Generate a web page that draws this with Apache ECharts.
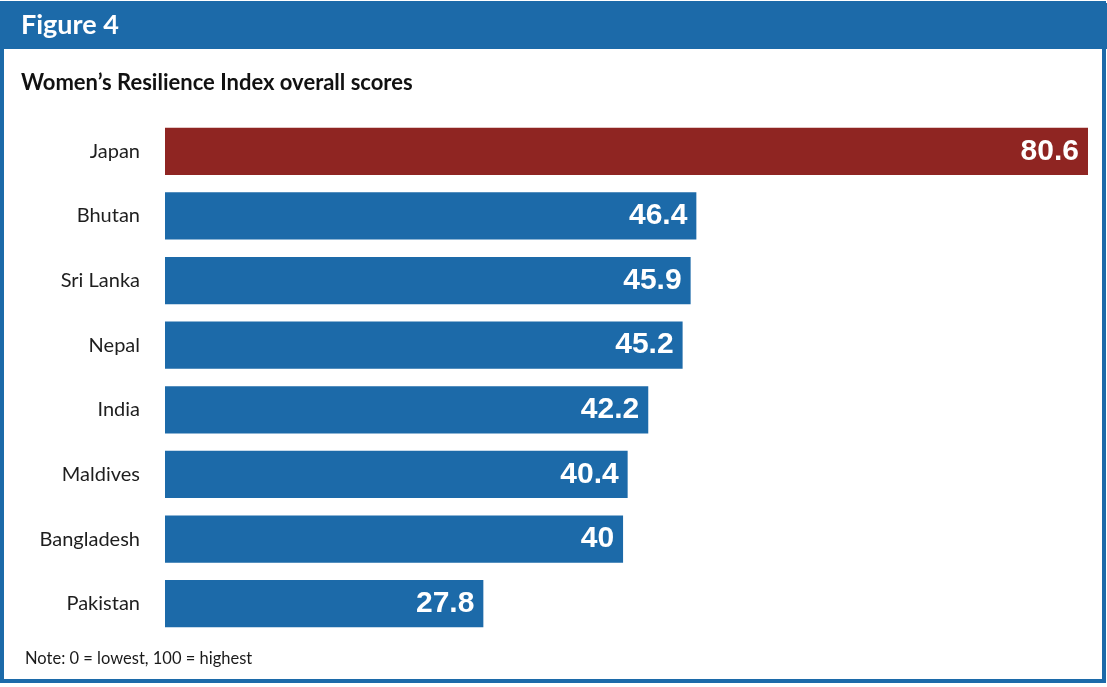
<!DOCTYPE html>
<html>
<head>
<meta charset="utf-8">
<script src="https://cdn.jsdelivr.net/npm/echarts@6/dist/echarts.min.js"></script>
<style>
  html, body { margin: 0; padding: 0; background: #ffffff; }
  #chart { width: 1107px; height: 687px; }
</style>
</head>
<body>
<div id="chart"></div>
<script>
// Women's Resilience Index overall scores by country
const countries = ['Japan', 'Bhutan', 'Sri Lanka', 'Nepal', 'India', 'Maldives', 'Bangladesh', 'Pakistan'];
const scores = [80.6, 46.4, 45.9, 45.2, 42.2, 40.4, 40, 27.8];
const highlighted = ['Japan'];

const BLUE = '#1c6aa9';
const RED = '#8f2522';

const chart = echarts.init(document.getElementById('chart'), null, { renderer: 'canvas' });

const barData = scores.map((v, i) => ({
  value: v,
  itemStyle: { color: highlighted.includes(countries[i]) ? RED : BLUE }
}));

chart.setOption({
  animation: false,
  backgroundColor: '#ffffff',
  graphic: [
    // outer frame
    { type: 'rect', shape: { x: 2, y: 3, width: 1102, height: 678 },
      style: { fill: 'none', stroke: BLUE, lineWidth: 4 }, z: 0 },
    // header band
    { type: 'rect', shape: { x: 0, y: 3, width: 1107, height: 46 },
      style: { fill: BLUE }, z: 1 },
    { type: 'text', left: 21, top: 12,
      style: { text: 'Figure 4', fill: '#ffffff', font: 'bold 27px Lato, "Noto Sans", sans-serif' }, z: 2 },
    { type: 'text', left: 21, top: 72,
      style: { text: 'Women\u2019s Resilience Index overall scores', fill: '#111111',
               font: 'bold 22px Lato, "Noto Sans", sans-serif' }, z: 2 },
    { type: 'text', left: 25, top: 650,
      style: { text: 'Note: 0 = lowest, 100 = highest', fill: '#1a1a1a',
               font: '16.5px Lato, "Noto Sans", sans-serif' }, z: 2 }
  ],
  grid: { left: 165, top: 119, width: 923, height: 517, containLabel: false },
  xAxis: {
    type: 'value',
    min: 0,
    max: function (v) { return v.max; },
    show: false
  },
  yAxis: {
    type: 'category',
    data: countries,
    inverse: true,
    axisLine: { show: false },
    axisTick: { show: false },
    splitLine: { show: false },
    axisLabel: {
      margin: 25,
      color: '#1e1e1e',
      fontFamily: 'Lato, "Noto Sans", sans-serif',
      fontSize: 20
    }
  },
  series: [{
    type: 'bar',
    data: barData,
    barCategoryGap: '27%',
    label: {
      show: true,
      position: 'insideRight',
      distance: 9,
      color: '#ffffff',
      fontFamily: '"Liberation Sans", Arial, sans-serif',
      fontWeight: 'bold',
      fontSize: 30
    }
  }]
});
</script>
</body>
</html>
